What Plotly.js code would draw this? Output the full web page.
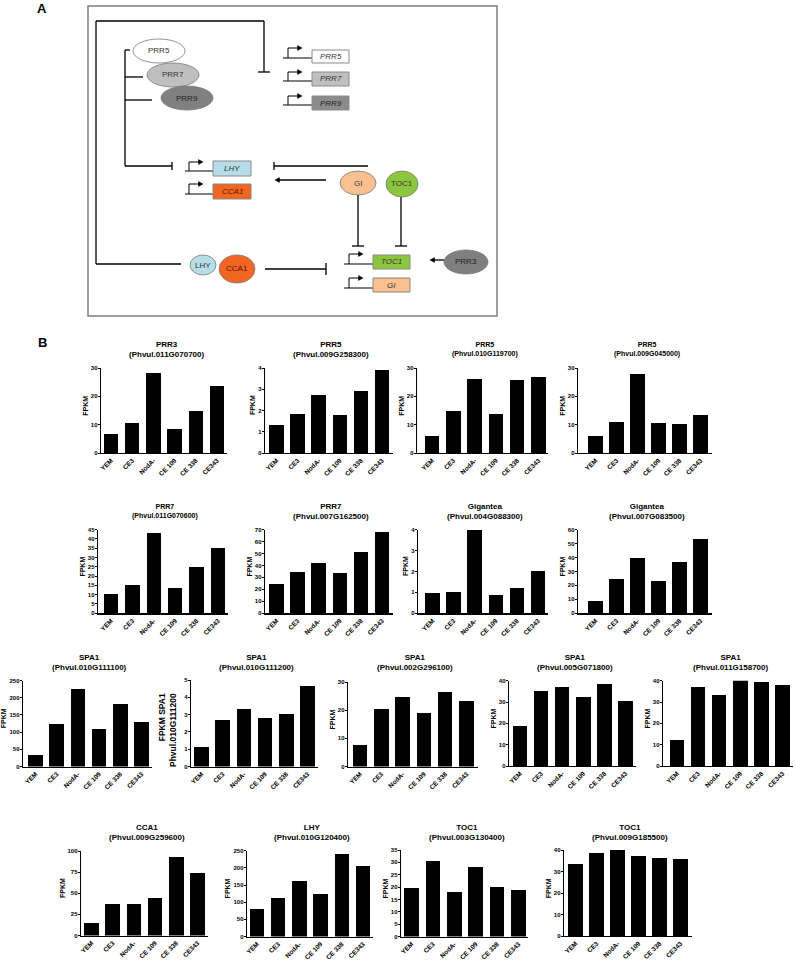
<!DOCTYPE html>
<html><head><meta charset="utf-8">
<script src="https://cdn.plot.ly/plotly-3.0.1.min.js"></script>
<style>html,body{margin:0;padding:0;background:#fff}#chart{width:795px;height:961px}</style>
</head><body><div id="chart"></div>
<script>
// ---------------- DATA ----------------
const strains = ['YEM','CE3','NodA-','CE 109','CE 338','CE343'];
const geneNames = ['PRR3','PRR5','PRR5','PRR5','PRR7','PRR7','Gigantea','Gigantea',
  'SPA1','SPA1','SPA1','SPA1','SPA1','CCA1','LHY','TOC1','TOC1'];
const geneIds = ['Phvul.011G070700','Phvul.009G258300','Phvul.010G119700','Phvul.009G045000',
  'Phvul.011G070600','Phvul.007G162500','Phvul.004G088300','Phvul.007G083500',
  'Phvul.010G111100','Phvul.010G111200','Phvul.002G296100','Phvul.005G071800','Phvul.011G158700',
  'Phvul.009G259600','Phvul.010G120400','Phvul.003G130400','Phvul.009G185500'];
const PRR3_011G070700 = [6.6,10.5,28.2,8.3,14.9,23.6];
const PRR5_009G258300 = [1.3,1.83,2.73,1.79,2.92,3.9];
const PRR5_010G119700 = [5.9,14.8,26.0,13.7,25.7,26.8];
const PRR5_009G045000 = [5.9,10.9,28.0,10.7,10.1,13.5];
const PRR7_011G070600 = [10.3,15.3,43.0,13.4,24.6,35.0];
const PRR7_007G162500 = [24.8,34.6,42.2,33.6,51.3,67.8];
const GI_004G088300   = [0.95,1.03,3.96,0.88,1.2,2.02];
const GI_007G083500   = [9.0,24.3,39.6,23.1,36.5,53.4];
const SPA1_010G111100 = [33,124,225,108,181,129];
const SPA1_010G111200 = [1.12,2.7,3.32,2.8,3.03,4.68];
const SPA1_002G296100 = [7.6,20.3,24.6,19.1,26.5,23.4];
const SPA1_005G071800 = [18.7,35.4,37.2,32.4,38.3,30.5];
const SPA1_011G158700 = [12.4,37.0,33.5,40.2,39.3,38.0];
const CCA1_009G259600 = [14.5,37.3,36.9,44.0,93.0,74.4];
const LHY_010G120400  = [79,112,161,123,239,204];
const TOC1_003G130400 = [19.5,30.5,18.1,28.0,20.2,18.8];
const TOC1_009G185500 = [33.7,38.5,40.1,37.0,36.3,35.9];
const seriesList = [PRR3_011G070700,PRR5_009G258300,PRR5_010G119700,PRR5_009G045000,
  PRR7_011G070600,PRR7_007G162500,GI_004G088300,GI_007G083500,
  SPA1_010G111100,SPA1_010G111200,SPA1_002G296100,SPA1_005G071800,SPA1_011G158700,
  CCA1_009G259600,LHY_010G120400,TOC1_003G130400,TOC1_009G185500];
const yMaxList  = [30,4,30,30, 45,70,4,60, 250,5,30,40,40, 100,250,35,40];
const yStepList = [10,1,10,10, 5,10,1,10, 50,1,10,10,10, 25,50,5,10];

// ---------------- LAYOUT (pixel frames) ----------------
const W=795,H=961;
const X=p=>p/W, Y=p=>1-p/H;
const FONT='Liberation Sans, Arial, sans-serif';
const frames = [
 {L:101,R:227,c0:111,c5:217,top:368,zero:453,ty:349},
 {L:265,R:393,c0:276.5,c5:382,top:368,zero:453,ty:349},
 {L:417,R:548,c0:432,c5:538.5,top:368,zero:453,ty:349,small:true},
 {L:578,R:712,c0:595.5,c5:700.5,top:368,zero:453,ty:349,small:true},
 {L:98,R:228,c0:111,c5:218,top:529.5,zero:613.3,ty:511,small:true},
 {L:265,R:393,c0:276.5,c5:382,top:529.5,zero:613.3,ty:511},
 {L:418,R:548,c0:432.5,c5:538,top:529.5,zero:613.3,ty:511},
 {L:578,R:712,c0:595.5,c5:700.5,top:529.5,zero:613.3,ty:511},
 {L:23,R:152,c0:35.5,c5:141.5,top:680.5,zero:766.5,ty:662},
 {L:191,R:318,c0:201.5,c5:307.5,top:680,zero:766.5,ty:662,special:true},
 {L:348,R:478,c0:360,c5:466.5,top:682,zero:766.5,ty:662},
 {L:509,R:636,c0:520,c5:625.5,top:680.7,zero:766,ty:662},
 {L:663,R:793,c0:677,c5:782.5,top:680.7,zero:766,ty:662},
 {L:81,R:208,c0:91.5,c5:197.5,top:851,zero:935.5,ty:832},
 {L:247,R:373,c0:257,c5:363,top:850.7,zero:936.5,ty:832},
 {L:401,R:528,c0:411.5,c5:518.5,top:850,zero:936.5,ty:832},
 {L:564,R:692,c0:575.5,c5:680.5,top:850,zero:936,ty:832}
];

const data=[];
const layout={width:W,height:H,margin:{l:0,r:0,t:0,b:0},paper_bgcolor:'#fff',plot_bgcolor:'rgba(0,0,0,0)',
  showlegend:false,font:{family:FONT,color:'#000'},shapes:[],annotations:[],bargap:0};

frames.forEach((f,i)=>{
  const n=i+1, sfx=(n===1?'':String(n));
  const s=(f.c5-f.c0)/5;
  data.push({type:'bar',x:strains,y:seriesList[i],xaxis:'x'+sfx,yaxis:'y'+sfx,
    marker:{color:'#000',line:{width:0}},width:14.5/s,hoverinfo:'skip'});
  layout['xaxis'+sfx]={domain:[X(f.L),X(f.R)],range:[-(f.c0-f.L)/s,5+(f.R-f.c5)/s],anchor:'y'+sfx,
    type:'category',showline:true,linecolor:'#000',linewidth:1.3,ticks:'',tickangle:-45,
    tickfont:{size:6.5,weight:'bold',family:FONT,color:'#000'},showgrid:false,zeroline:false,fixedrange:true,automargin:false};
  layout['yaxis'+sfx]={domain:[Y(f.zero),Y(f.top)],range:[0,yMaxList[i]],dtick:yStepList[i],tick0:0,anchor:'x'+sfx,
    showline:true,linecolor:'#000',linewidth:1.3,ticks:'outside',ticklen:2,tickwidth:1,tickcolor:'#000',ticklabelstandoff:-1,
    tickfont:{size:6,weight:'bold',family:FONT,color:'#000'},showgrid:false,zeroline:false,fixedrange:true,automargin:false};
  const fs=f.small?7:8;
  layout.annotations.push({xref:'paper',yref:'paper',x:X((f.L+f.R)/2+2),y:Y(f.ty),xanchor:'center',yanchor:'middle',
    showarrow:false,text:geneNames[i]+'<br>('+geneIds[i]+')',font:{size:fs,weight:'bold',family:FONT,color:'#000'}});
  if(f.special){
    layout.annotations.push({xref:'paper',yref:'paper',x:X(f.L-24),y:Y(730),xanchor:'center',yanchor:'middle',
      showarrow:false,textangle:-90,align:'right',text:'FPKM SPA1<br>Phvul.010G111200',
      font:{size:8.5,weight:'bold',family:FONT,color:'#000'}});
  } else {
    const d=String(yMaxList[i]).length;
    layout.annotations.push({xref:'paper',yref:'paper',x:X(f.L-9-3.4*d),y:Y((f.top+f.zero)/2-5),xanchor:'center',yanchor:'middle',
      showarrow:false,textangle:-90,text:'FPKM',font:{size:7,weight:'bold',family:FONT,color:'#000'}});
  }
});

// ---------------- PANEL A diagram ----------------
const S=layout.shapes, A=layout.annotations;
const P=(pts)=>'M'+pts.map(p=>X(p[0])+','+Y(p[1])).join(' L')+' Z';
function line(x0,y0,x1,y1,w){S.push({type:'line',xref:'paper',yref:'paper',x0:X(x0),y0:Y(y0),x1:X(x1),y1:Y(y1),line:{color:'#000',width:w||1.3}});}
function rect(x0,y0,x1,y1,fill,lc,lw){S.push({type:'rect',xref:'paper',yref:'paper',x0:X(x0),y0:Y(y0),x1:X(x1),y1:Y(y1),fillcolor:fill,line:{color:lc||'#8a8a8a',width:lw||1}});}
function ell(cx,cy,rx,ry,fill){S.push({type:'circle',xref:'paper',yref:'paper',x0:X(cx-rx),y0:Y(cy+ry),x1:X(cx+rx),y1:Y(cy-ry),fillcolor:fill,line:{color:'#7a7a7a',width:0.8}});}
function head(x,y,dir){const d=dir>0?-4.5:4.5;S.push({type:'path',xref:'paper',yref:'paper',path:P([[x,y],[x+d,y-2.4],[x+d,y+2.4]]),fillcolor:'#000',line:{color:'#000',width:0.5}});}
function txt(x,y,t,opt){opt=opt||{};A.push({xref:'paper',yref:'paper',x:X(x),y:Y(y),xanchor:'center',yanchor:'middle',showarrow:false,text:t,
  font:{size:opt.size||8,family:FONT,color:opt.color||'#333',style:opt.italic?'italic':'normal',weight:opt.bold?'bold':'normal'}});}
function promoter(xb,yb,xbend,ytop,xtip,xbox){line(xb,yb,xbox,yb,1);line(xbend,yb,xbend,ytop,1);line(xbend,ytop,xtip-3,ytop,1);head(xtip,ytop,1);}

rect(88,6,497,316,'rgba(0,0,0,0)','#7f7f7f',1.5);
line(181,264,96,264); line(96,264,96,21); line(96,21,264,21); line(264,21,264,72); line(258,72,270,72);
line(125,50,130,50); line(125,50,125,166); line(125,77,143,77); line(125,100,152,100);
line(125,166,172,166); line(172,162,172,170);
ell(159,51,26,12,'#ffffff'); txt(159,51,'PRR5');
ell(173,75,26,12,'#bfbfbf'); txt(173,75,'PRR7');
ell(187,98,26,12,'#808080'); txt(187,98,'PRR9',{color:'#222'});
promoter(283,58,288,48,302,312); rect(312,50,349,63,'#ffffff'); txt(330.5,56.5,'PRR5',{italic:true});
promoter(283,81,288,72,302,312); rect(312,72,349,86,'#bfbfbf'); txt(330.5,79,'PRR7',{italic:true});
promoter(283,105,288,96,302,312); rect(312,96,349,110,'#8c8c8c'); txt(330.5,103,'PRR9',{italic:true,color:'#222'});
promoter(185,171,189,162,203,213); rect(213,161,251,176,'#b7dee8'); txt(232,168.5,'LHY',{italic:true});
promoter(185,194,189,184,203,213); rect(213,184,251,199,'#f26522'); txt(232,191.5,'CCA1',{italic:true,color:'#5a1500'});
line(368,166,274,166); line(274,162,274,170);
line(326,180,279,180); head(275,180,-1);
ell(358,183,18,12,'#fac090'); txt(358,183,'GI');
ell(402,184,16,13,'#8cc63f'); txt(402,184,'TOC1');
line(358,195,358,246); line(352,246,364,246);
line(401,197,401,246); line(395,246,407,246);
promoter(344,264,349,254,363,373); rect(373,255,410,269,'#8cc63f'); txt(391.5,262,'TOC1',{italic:true});
promoter(344,288,349,278,363,373); rect(373,278,410,292,'#fac090'); txt(391.5,285,'GI',{italic:true});
ell(203,265,13,10,'#b7dee8'); txt(203,265,'LHY');
ell(237,269,18,14,'#f26522'); txt(237,269,'CCA1',{color:'#5a1500'});
line(265,269,326,269); line(326,263,326,275);
line(448,260,434,260); head(430,260,-1);
ell(466,262,22,12,'#7f7f7f'); txt(466,262,'PRR3',{color:'#222'});

txt(42,9,'A',{size:13,bold:true,color:'#000'});
txt(42,342,'B',{size:13,bold:true,color:'#000'});

Plotly.newPlot('chart',data,layout,{staticPlot:true,displayModeBar:false});
</script></body></html>
